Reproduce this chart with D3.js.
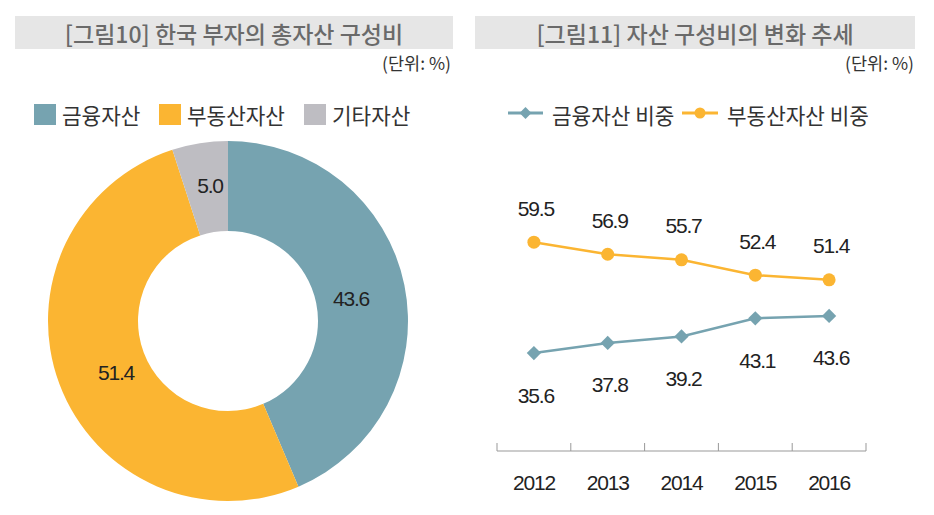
<!DOCTYPE html>
<html><head><meta charset="utf-8">
<script src="https://cdn.jsdelivr.net/npm/d3@7"></script>
<style>
html,body{margin:0;padding:0;background:#fff;}
svg{display:block;}
text{font-family:"Noto Sans CJK KR","Noto Sans",sans-serif;}
text.num{font-family:"Liberation Sans",Arial,sans-serif;}
</style></head>
<body>
<svg id="c" width="934" height="515"></svg>
<script>
// Donut data
const donutCategories = ["금융자산", "부동산자산", "기타자산"];
const donutValues = [43.6, 51.4, 5.0];
const donutColors = ["#76a3b0", "#fbb532", "#bebdc2"];

// Line data
const years = ["2012", "2013", "2014", "2015", "2016"];
const financialShare = [35.6, 37.8, 39.2, 43.1, 43.6];
const realEstateShare = [59.5, 56.9, 55.7, 52.4, 51.4];
const lineSeriesNames = ["금융자산 비중", "부동산자산 비중"];
const lineColors = ["#76a3b0", "#fbb532"];

const title1 = "[그림10] 한국 부자의 총자산 구성비";
const title2 = "[그림11] 자산 구성비의 변화 추세";
const unitLabel = "(단위: %)";

const svg = d3.select("#c");

// Titles
function titleBox(x, w, t) {
  svg.append("rect").attr("x", x).attr("y", 16).attr("width", w).attr("height", 33).attr("fill", "#e6e6e6");
  svg.append("text").attr("x", x + w / 2).attr("y", 33).attr("text-anchor", "middle")
    .attr("dominant-baseline", "central").attr("font-size", 23).attr("font-weight", 500)
    .attr("fill", "#6a6a6a").text(t);
}
titleBox(15, 438, title1);
titleBox(475, 440, title2);
svg.append("text").attr("x", 451).attr("y", 62).attr("text-anchor", "end").attr("dominant-baseline", "central")
  .attr("font-size", 17.5).attr("fill", "#333").text(unitLabel);
svg.append("text").attr("x", 914).attr("y", 62).attr("text-anchor", "end").attr("dominant-baseline", "central")
  .attr("font-size", 17.5).attr("fill", "#333").text(unitLabel);

// Donut legend
const legX = [34, 159, 304];
donutCategories.forEach((c, i) => {
  svg.append("rect").attr("x", legX[i]).attr("y", 104).attr("width", 22).attr("height", 21).attr("fill", donutColors[i]);
  svg.append("text").attr("x", legX[i] + 28).attr("y", 114).attr("dominant-baseline", "central")
    .attr("font-size", 21.3).attr("fill", "#333").text(c);
});

// Donut
const cx = 228, cy = 321, rOuter = 180, rInner = 90;
const pie = d3.pie().sort(null).value(d => d)(donutValues);
const arc = d3.arc().innerRadius(rInner).outerRadius(rOuter);
const g = svg.append("g").attr("transform", `translate(${cx},${cy})`);
g.selectAll("path").data(pie).enter().append("path").attr("d", arc)
  .attr("fill", (d, i) => donutColors[i]);
const labelPos = [[123, -23], [-112, 51], [-18, -136]];
pie.forEach((d, i) => {
  g.append("text").attr("class", "num").attr("x", labelPos[i][0]).attr("y", labelPos[i][1])
    .attr("text-anchor", "middle").attr("dominant-baseline", "central")
    .attr("font-size", 21).attr("letter-spacing", -1.2).attr("fill", "#222").text(donutValues[i].toFixed(1));
});

// Line chart
const x = d3.scaleBand().domain(years).range([497, 866]);
const y = d3.scaleLinear().domain([14.5, 64.5]).range([451, 219]);
const axisY = 451;

svg.append("line").attr("x1", 497).attr("x2", 866).attr("y1", axisY).attr("y2", axisY).attr("stroke", "#999").attr("stroke-width", 1);
const bounds = years.map(yr => x(yr)).concat([x(years[years.length - 1]) + x.bandwidth()]);
bounds.forEach(b => {
  svg.append("line").attr("x1", b).attr("x2", b).attr("y1", axisY - 8).attr("y2", axisY).attr("stroke", "#999");
});
years.forEach(yr => {
  svg.append("text").attr("class", "num").attr("x", x(yr) + x.bandwidth() / 2).attr("y", 482).attr("text-anchor", "middle")
    .attr("dominant-baseline", "central").attr("font-size", 21).attr("letter-spacing", -1.2).attr("fill", "#222").text(yr);
});

const xc = yr => x(yr) + x.bandwidth() / 2;
const line = d3.line().x((d, i) => xc(years[i])).y(d => y(d));
[financialShare, realEstateShare].forEach((s, k) => {
  svg.append("path").datum(s).attr("d", line).attr("fill", "none").attr("stroke", lineColors[k]).attr("stroke-width", 2.5);
});
// markers
realEstateShare.forEach((v, i) => {
  svg.append("circle").attr("cx", xc(years[i])).attr("cy", y(v)).attr("r", 6.5).attr("fill", lineColors[1]);
  svg.append("text").attr("class", "num").attr("x", xc(years[i]) + 2).attr("y", y(v) - 34).attr("text-anchor", "middle")
    .attr("dominant-baseline", "central").attr("font-size", 21).attr("letter-spacing", -1.2).attr("fill", "#222").text(v.toFixed(1));
});
financialShare.forEach((v, i) => {
  svg.append("path").attr("d", d3.symbol().type(d3.symbolDiamond2).size(130)())
    .attr("transform", `translate(${xc(years[i])},${y(v)})`).attr("fill", lineColors[0]);
  svg.append("text").attr("class", "num").attr("x", xc(years[i]) + 2).attr("y", y(v) + 42).attr("text-anchor", "middle")
    .attr("dominant-baseline", "central").attr("font-size", 21).attr("letter-spacing", -1.2).attr("fill", "#222").text(v.toFixed(1));
});

// line legend
const ll = [[508, 543, 552], [682, 718, 727]];
lineSeriesNames.forEach((n, k) => {
  const [a, b, t] = ll[k];
  svg.append("line").attr("x1", a).attr("x2", b).attr("y1", 113).attr("y2", 113).attr("stroke", lineColors[k]).attr("stroke-width", 3);
  if (k === 0) {
    svg.append("path").attr("d", d3.symbol().type(d3.symbolDiamond2).size(90)())
      .attr("transform", `translate(${(a + b) / 2},113)`).attr("fill", lineColors[0]);
  } else {
    svg.append("circle").attr("cx", (a + b) / 2).attr("cy", 113).attr("r", 5.5).attr("fill", lineColors[1]);
  }
  svg.append("text").attr("x", t).attr("y", 114).attr("dominant-baseline", "central")
    .attr("font-size", 21.3).attr("fill", "#333").text(n);
});
</script>
</body></html>
